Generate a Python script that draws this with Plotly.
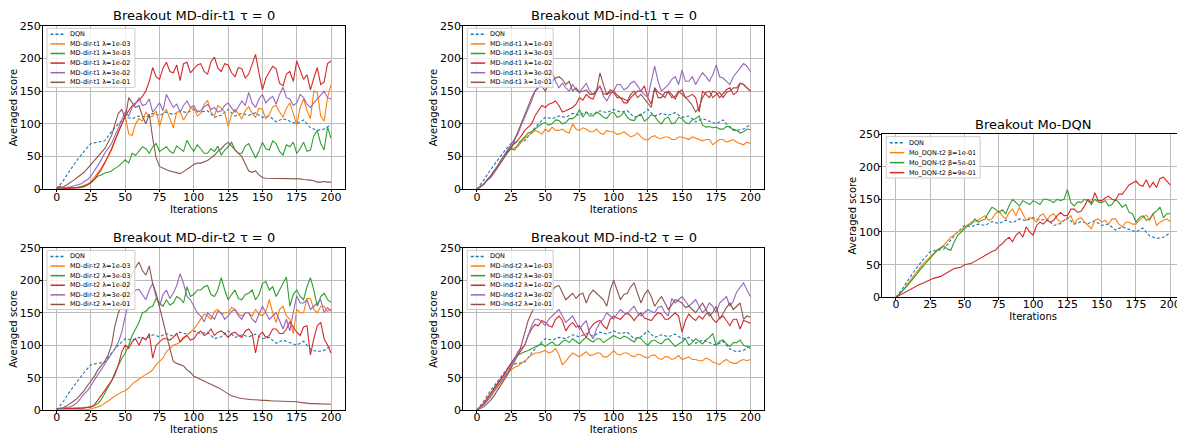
import plotly.graph_objects as go

# ---------------- data ----------------
ITER = list(range(0, 201, 5))                 # DQN baseline sampled every 5 iterations
ITER_F = [k * 2.5 for k in range(81)]         # other runs sampled every 2.5 iterations

DQN = [0, 14, 30, 45, 58, 70, 72, 74, 88, 100, 110, 108, 112, 110, 116, 113, 118, 114, 120, 117,
       122, 118, 120, 110, 113, 122, 112, 116, 113, 117, 110, 112, 103, 108, 104, 100, 106, 94, 90, 92, 99]

# Breakout MD-dir-t1
DIR_T1_1e3 = [2, 2, 2, 2, 2, 3, 3, 4, 6, 8, 12, 18, 25, 32, 40, 50, 60, 75, 88, 100,
              112, 85, 82, 100, 108, 104, 118, 110, 112, 120, 96, 115, 122, 108, 94, 118, 118, 106, 114, 124,
              124, 112, 116, 130, 136, 118, 112, 128, 124, 118, 96, 114, 122, 115, 108, 120, 126, 116, 110, 124,
              122, 108, 114, 126, 128, 118, 110, 124, 132, 116, 98, 125, 138, 120, 108, 150, 148, 112, 104, 140, 160]
DIR_T1_3e3 = [2, 2, 2, 2, 2, 2, 3, 4, 5, 7, 10, 15, 20, 22, 25, 26, 28, 32, 35, 40,
              45, 40, 55, 52, 58, 65, 62, 55, 65, 70, 58, 62, 65, 58, 55, 66, 62, 58, 75, 65,
              58, 68, 62, 55, 55, 62, 58, 66, 52, 60, 65, 72, 60, 55, 55, 66, 70, 60, 48, 58,
              72, 62, 60, 74, 70, 58, 52, 68, 65, 72, 55, 62, 72, 58, 60, 82, 90, 70, 60, 95, 78]
DIR_T1_1e2 = [3, 4, 1, 1, 1, 1, 2, 3, 4, 7, 10, 15, 22, 30, 40, 50, 62, 75, 88, 100,
              112, 120, 128, 132, 136, 142, 150, 165, 186, 172, 168, 185, 194, 180, 178, 190, 166, 192, 194, 178,
              184, 190, 192, 180, 176, 195, 202, 185, 180, 192, 190, 178, 172, 186, 184, 170, 176, 190, 206, 178,
              152, 170, 178, 188, 184, 162, 158, 176, 180, 165, 196, 182, 168, 175, 152, 170, 186, 160, 164, 192, 196]
DIR_T1_3e2 = [2, 2, 3, 3, 4, 5, 6, 8, 12, 15, 20, 28, 35, 45, 55, 62, 70, 82, 95, 108,
              118, 112, 125, 130, 140, 128, 130, 138, 118, 125, 132, 120, 145, 135, 125, 130, 118, 128, 135, 125,
              128, 118, 120, 126, 130, 122, 125, 118, 120, 128, 132, 124, 118, 126, 135, 128, 148, 132, 125, 138,
              145, 132, 138, 142, 130, 145, 156, 140, 138, 128, 132, 145, 140, 130, 125, 132, 138, 145, 150, 140, 138]
DIR_T1_1e1 = [1, 2, 4, 7, 10, 14, 18, 22, 26, 32, 38, 44, 50, 56, 62, 72, 82, 100, 116, 122,
              108, 140, 132, 125, 128, 112, 100, 115, 78, 48, 35, 32, 30, 28, 27, 25, 24, 27, 30, 34,
              38, 40, 40, 42, 44, 48, 52, 58, 62, 68, 72, 66, 60, 55, 50, 40, 28, 26, 28, 22,
              18, 17, 17, 16, 16, 17, 16, 16, 17, 16, 17, 16, 15, 15, 14, 13, 11, 11, 12, 11, 11]

# Breakout MD-ind-t1
IND_T1_1e3 = [0, 4, 8, 14, 20, 28, 35, 44, 52, 58, 62, 64, 65, 72, 78, 82, 85, 90, 88, 84,
              92, 88, 95, 90, 90, 92, 88, 86, 100, 92, 90, 94, 92, 88, 88, 92, 86, 84, 90, 88,
              88, 84, 85, 88, 84, 80, 82, 86, 80, 76, 75, 80, 82, 78, 78, 80, 80, 76, 76, 80,
              80, 78, 76, 80, 78, 76, 74, 76, 76, 68, 72, 76, 76, 72, 74, 76, 72, 70, 68, 72, 70]
IND_T1_3e3 = [0, 4, 8, 14, 20, 28, 35, 44, 52, 58, 62, 60, 68, 75, 80, 86, 88, 92, 95, 100,
              102, 98, 100, 106, 105, 100, 102, 108, 108, 112, 122, 110, 118, 112, 112, 118, 115, 110, 108, 116,
              118, 110, 112, 118, 110, 106, 105, 112, 115, 104, 108, 114, 112, 104, 100, 108, 110, 100, 102, 110,
              108, 102, 100, 106, 108, 112, 98, 95, 96, 94, 95, 92, 92, 96, 96, 90, 90, 86, 88, 92, 91]
IND_T1_1e2 = [0, 4, 8, 14, 20, 28, 35, 44, 52, 60, 65, 70, 75, 82, 90, 95, 100, 112, 120, 128,
              125, 130, 132, 135, 128, 118, 120, 122, 125, 130, 140, 136, 145, 140, 138, 150, 158, 146, 145, 152,
              150, 144, 140, 132, 132, 140, 145, 150, 150, 158, 140, 130, 155, 148, 145, 140, 150, 145, 138, 148,
              152, 140, 142, 145, 140, 118, 150, 145, 140, 150, 148, 140, 146, 152, 155, 145, 148, 162, 160, 155, 150]
IND_T1_3e2 = [0, 4, 8, 14, 20, 28, 35, 44, 52, 60, 68, 76, 85, 98, 110, 122, 135, 150, 158, 165,
              172, 168, 180, 165, 155, 162, 155, 150, 160, 152, 148, 155, 162, 150, 145, 152, 158, 142, 135, 145,
              150, 160, 160, 152, 155, 162, 165, 158, 150, 145, 140, 165, 188, 165, 150, 155, 160, 168, 172, 160,
              182, 165, 165, 172, 160, 170, 178, 172, 165, 175, 190, 172, 170, 165, 160, 172, 178, 185, 192, 188, 180]
IND_T1_1e1 = [0, 4, 8, 14, 18, 25, 33, 42, 50, 56, 62, 75, 90, 102, 115, 128, 140, 150, 155, 158,
              150, 160, 165, 170, 172, 168, 160, 165, 150, 155, 148, 150, 152, 145, 145, 150, 178, 160, 145, 148,
              148, 140, 140, 138, 135, 145, 150, 140, 145, 138, 132, 125, 155, 140, 140, 148, 148, 140, 142, 150,
              145, 140, 135, 128, 118, 125, 140, 148, 150, 140, 145, 148, 140, 148, 150, 155, 155, 162, 160, 155, 150]

# Breakout Mo-DQN
MO_1e1 = [0, 5, 10, 18, 25, 32, 38, 45, 52, 57, 62, 68, 72, 76, 80, 86, 92, 96, 100, 104,
          108, 112, 115, 116, 118, 122, 125, 118, 120, 128, 132, 125, 120, 130, 135, 125, 138, 128, 118, 122,
          120, 115, 125, 128, 118, 125, 128, 120, 115, 118, 120, 125, 112, 120, 122, 115, 110, 105, 118, 120,
          115, 118, 112, 120, 120, 112, 108, 115, 115, 112, 112, 118, 122, 126, 118, 128, 110, 115, 118, 120, 116]
MO_5e1 = [0, 5, 10, 16, 22, 28, 35, 42, 48, 54, 60, 66, 72, 75, 78, 74, 72, 85, 95, 100,
          105, 110, 112, 120, 115, 118, 120, 130, 138, 135, 130, 134, 128, 140, 150, 145, 140, 148, 145, 142,
          148, 145, 142, 150, 150, 148, 145, 150, 148, 150, 165, 145, 140, 146, 145, 150, 148, 142, 150, 146,
          145, 148, 140, 142, 150, 145, 138, 142, 130, 128, 115, 122, 125, 118, 120, 128, 132, 138, 122, 128, 128]
MO_9e1 = [0, 3, 6, 9, 12, 15, 18, 20, 22, 25, 27, 29, 30, 32, 35, 38, 42, 44, 45, 46,
          50, 51, 52, 55, 58, 62, 65, 68, 70, 72, 78, 82, 88, 92, 85, 95, 100, 92, 108, 100,
          95, 110, 115, 112, 118, 115, 118, 125, 130, 125, 125, 135, 135, 130, 132, 140, 150, 145, 160, 148,
          148, 152, 155, 150, 148, 158, 158, 165, 172, 175, 178, 172, 170, 180, 168, 176, 168, 182, 184, 178, 172]

# Breakout MD-dir-t2
DIR_T2_1e3 = [0, 0, 0, 0, 0, 0, 0, 0, 0, 1, 2, 3, 5, 7, 10, 14, 18, 22, 25, 28,
              30, 34, 40, 44, 48, 52, 55, 58, 62, 70, 75, 80, 90, 95, 100, 102, 105, 110, 115, 120,
              125, 132, 140, 148, 145, 140, 152, 155, 148, 150, 150, 158, 155, 148, 145, 150, 150, 145, 155, 148,
              145, 152, 170, 150, 135, 155, 160, 145, 140, 118, 155, 150, 150, 172, 172, 155, 150, 160, 160, 152, 156]
DIR_T2_3e3 = [2, 2, 2, 2, 2, 2, 3, 3, 4, 4, 5, 7, 10, 16, 25, 35, 45, 58, 70, 80,
              88, 100, 115, 125, 135, 150, 152, 158, 160, 172, 165, 160, 170, 162, 165, 175, 172, 165, 190, 175,
              178, 185, 185, 190, 192, 178, 175, 185, 204, 185, 170, 178, 185, 172, 170, 178, 180, 185, 170, 178,
              195, 198, 185, 190, 175, 185, 195, 205, 160, 178, 185, 175, 170, 190, 204, 185, 160, 175, 180, 170, 166]
DIR_T2_1e2 = [2, 2, 2, 2, 2, 2, 2, 2, 3, 4, 5, 8, 15, 22, 30, 38, 45, 55, 70, 90,
              100, 95, 105, 110, 100, 112, 108, 118, 80, 100, 105, 110, 110, 108, 112, 118, 105, 112, 115, 108,
              110, 118, 122, 115, 118, 125, 115, 120, 122, 118, 112, 118, 120, 115, 112, 122, 125, 118, 88, 115,
              120, 112, 115, 125, 125, 118, 118, 125, 136, 128, 120, 115, 128, 130, 85, 110, 130, 135, 110, 100, 88]
DIR_T2_3e2 = [2, 2, 3, 4, 5, 8, 12, 18, 25, 30, 38, 45, 55, 62, 70, 78, 85, 95, 105, 120,
              145, 165, 180, 185, 186, 178, 170, 185, 195, 175, 160, 178, 185, 172, 180, 192, 210, 195, 175, 170,
              160, 150, 145, 136, 150, 145, 140, 152, 150, 140, 145, 152, 155, 145, 140, 150, 150, 140, 135, 148,
              160, 150, 140, 145, 150, 138, 125, 140, 122, 150, 176, 165, 165, 170, 155, 160, 165, 170, 150, 158, 152]
DIR_T2_1e1 = [2, 3, 4, 7, 10, 14, 18, 24, 30, 38, 45, 52, 62, 68, 75, 85, 100, 130, 150, 165,
              180, 195, 210, 220, 228, 215, 208, 222, 195, 180, 160, 140, 116, 95, 75, 72, 70, 68, 62, 58,
              52, 50, 48, 45, 42, 40, 38, 35, 32, 28, 25, 22, 20, 19, 18, 17, 17, 16, 16, 15,
              15, 15, 14, 14, 14, 14, 13, 13, 13, 13, 13, 12, 11, 11, 10, 10, 10, 10, 9, 9, 9]

# Breakout MD-ind-t2
IND_T2_1e3 = [0, 5, 10, 16, 22, 30, 38, 45, 52, 58, 62, 66, 68, 72, 75, 80, 85, 88, 88, 90,
              92, 88, 90, 95, 85, 70, 75, 82, 88, 85, 82, 86, 90, 84, 85, 88, 88, 82, 82, 86,
              92, 86, 85, 88, 88, 84, 82, 86, 85, 82, 80, 84, 85, 80, 78, 82, 82, 78, 80, 84,
              78, 80, 82, 78, 78, 76, 76, 80, 78, 74, 72, 70, 75, 78, 74, 72, 72, 76, 78, 76, 78]
IND_T2_3e3 = [0, 5, 10, 18, 25, 34, 42, 48, 55, 64, 72, 80, 85, 88, 90, 92, 95, 98, 100, 102,
              98, 102, 105, 100, 100, 106, 108, 104, 110, 106, 102, 108, 112, 108, 105, 110, 110, 104, 108, 112,
              115, 112, 110, 114, 112, 108, 105, 112, 110, 104, 100, 106, 108, 104, 102, 108, 110, 104, 98, 102,
              105, 110, 100, 104, 110, 106, 102, 108, 112, 118, 100, 106, 108, 102, 98, 104, 104, 108, 100, 98, 95]
IND_T2_1e2 = [0, 5, 10, 18, 25, 32, 40, 48, 55, 64, 72, 80, 85, 92, 100, 115, 125, 132, 130, 138,
              135, 130, 128, 140, 145, 138, 122, 130, 135, 128, 130, 120, 112, 125, 132, 136, 138, 130, 125, 140,
              145, 142, 140, 146, 150, 145, 138, 145, 150, 142, 140, 138, 145, 150, 148, 140, 140, 145, 150, 145,
              120, 138, 148, 142, 138, 145, 140, 148, 150, 140, 135, 142, 145, 138, 130, 140, 140, 125, 138, 136, 134]
IND_T2_3e2 = [0, 4, 8, 14, 20, 28, 35, 42, 50, 58, 68, 80, 90, 95, 100, 115, 130, 140, 140, 135,
              130, 140, 145, 150, 155, 145, 135, 140, 145, 135, 125, 132, 138, 118, 110, 125, 135, 140, 150, 145,
              140, 148, 155, 150, 148, 155, 160, 150, 145, 150, 155, 152, 150, 158, 160, 150, 145, 172, 165, 170,
              175, 168, 160, 165, 170, 160, 150, 155, 165, 160, 150, 165, 170, 175, 160, 168, 182, 190, 196, 185, 175]
IND_T2_1e1 = [0, 2, 5, 10, 15, 22, 30, 38, 45, 55, 65, 75, 85, 100, 120, 138, 150, 160, 170, 180,
              187, 180, 185, 190, 192, 180, 170, 175, 180, 172, 178, 180, 165, 178, 185, 180, 175, 170, 160, 185,
              200, 185, 170, 178, 180, 190, 196, 180, 165, 178, 185, 175, 160, 168, 175, 165, 155, 162, 170, 168,
              165, 158, 160, 155, 150, 158, 165, 155, 145, 150, 160, 140, 150, 158, 165, 155, 160, 165, 140, 145, 143]

X_TICKS = [0, 25, 50, 75, 100, 125, 150, 175, 200]
Y_TICKS = [0, 50, 100, 150, 200, 250]

LAM = ["1e-03", "3e-03", "1e-02", "3e-02", "1e-01"]
BETA = ["1e-01", "5e-01", "9e-01"]

# ---------------- styling ----------------
OFF = 8                      # default body margin of the html page
W, H = 1185 - OFF, 444 - OFF
FONT = "DejaVu Sans"
C_DQN = "#1f77b4"
C_SERIES = ["#ff7f0e", "#2ca02c", "#d62728", "#9467bd", "#8c564b"]


def xp(px):
    return (px - OFF) / W


def yp(py):
    return 1 - (py - OFF) / H


panels = [
    dict(title="Breakout MD-dir-t1 τ = 0", px=(43, 345), py=(20, 188.7),
         series=[DIR_T1_1e3, DIR_T1_3e3, DIR_T1_1e2, DIR_T1_3e2, DIR_T1_1e1],
         labels=[f"MD-dir-t1 λ={v}" for v in LAM], boxw=88),
    dict(title="Breakout MD-ind-t1 τ = 0", px=(463.6, 764.7), py=(20, 188.7),
         series=[IND_T1_1e3, IND_T1_3e3, IND_T1_1e2, IND_T1_3e2, IND_T1_1e1],
         labels=[f"MD-ind-t1 λ={v}" for v in LAM], boxw=86),
    dict(title="Breakout Mo-DQN", px=(883, 1185), py=(131.7, 300),
         series=[MO_1e1, MO_5e1, MO_9e1],
         labels=[f"Mo_DQN-t2 β={v}" for v in BETA], boxw=94),
    dict(title="Breakout MD-dir-t2 τ = 0", px=(43, 345), py=(249, 416.3),
         series=[DIR_T2_1e3, DIR_T2_3e3, DIR_T2_1e2, DIR_T2_3e2, DIR_T2_1e1],
         labels=[f"MD-dir-t2 λ={v}" for v in LAM], boxw=88),
    dict(title="Breakout MD-ind-t2 τ = 0", px=(463.6, 764.7), py=(249, 416.3),
         series=[IND_T2_1e3, IND_T2_3e3, IND_T2_1e2, IND_T2_3e2, IND_T2_1e1],
         labels=[f"MD-ind-t2 λ={v}" for v in LAM], boxw=86),
]

fig = go.Figure()
shapes = []
annotations = []
layout_axes = {}

for i, p in enumerate(panels, start=1):
    sfx = "" if i == 1 else str(i)
    xref, yref = "x" + sfx, "y" + sfx

    fig.add_trace(go.Scatter(x=ITER, y=DQN, mode="lines", name="DQN", showlegend=False,
                             line=dict(color=C_DQN, width=1.1, dash="3px,2px"),
                             xaxis=xref, yaxis=yref, hoverinfo="skip"))
    for s, lab, col in zip(p["series"], p["labels"], C_SERIES):
        fig.add_trace(go.Scatter(x=ITER_F, y=s, mode="lines", name=lab, showlegend=False,
                                 line=dict(color=col, width=1.1),
                                 xaxis=xref, yaxis=yref, hoverinfo="skip"))

    x0, x1 = p["px"]
    y0, y1 = p["py"]
    common = dict(showgrid=True, gridcolor="#bcbcbc", gridwidth=1.3, zeroline=False,
                  showline=True, mirror=True, linecolor="black", linewidth=1,
                  ticks="outside", ticklen=2, tickcolor="black", tickwidth=1,
                  tickfont=dict(family=FONT, size=11, color="black"))
    layout_axes["xaxis" + sfx] = dict(domain=[xp(x0), min(xp(x1), 1.0)], range=[-10, 210],
                                      tickmode="array", tickvals=X_TICKS, anchor=yref,
                                      ticklabelstandoff=-5,
                                      title=dict(text="Iterations", font=dict(family=FONT, size=10, color="black"),
                                                 standoff=0),
                                      **common)
    layout_axes["yaxis" + sfx] = dict(domain=[yp(y1), yp(y0)], range=[0, 250],
                                      tickmode="array", tickvals=Y_TICKS, anchor=xref,
                                      ticklabelstandoff=-3,
                                      title=dict(text="Averaged score", font=dict(family=FONT, size=10, color="black"),
                                                 standoff=0),
                                      **common)

    annotations.append(dict(text=p["title"], x=xp((x0 + min(x1, 1186)) / 2), y=yp(y0 - 0.5),
                            xref="paper", yref="paper", xanchor="center", yanchor="bottom",
                            showarrow=False, font=dict(family=FONT, size=13, color="black")))

    # compact matplotlib-style legend box
    names = ["DQN"] + p["labels"]
    colors = [C_DQN] + C_SERIES[:len(p["labels"])]
    n = len(names)
    step = 9.9 if n == 6 else 10.3
    bx0, by0 = x0 + 4, y0 + 2.7
    bx1, by1 = bx0 + p["boxw"], by0 + n * step + 1.5
    shapes.append(dict(type="rect", xref="paper", yref="paper",
                       x0=xp(bx0), x1=xp(bx1), y0=yp(by1), y1=yp(by0),
                       fillcolor="rgba(255,255,255,0.8)", line=dict(color="#cccccc", width=1),
                       layer="above"))
    for k, (nm, col) in enumerate(zip(names, colors)):
        ry = by0 + 6.2 + k * step
        shapes.append(dict(type="line", xref="paper", yref="paper",
                           x0=xp(bx0 + 3.5), x1=xp(bx0 + 18), y0=yp(ry), y1=yp(ry),
                           line=dict(color=col, width=1.5, dash="3px,2px" if k == 0 else "solid"),
                           layer="above"))
        annotations.append(dict(text=nm, x=xp(bx0 + 21), y=yp(ry), xref="paper", yref="paper",
                                xanchor="left", yanchor="middle", showarrow=False,
                                font=dict(family=FONT, size=6.5, color="black")))

fig.update_layout(
    width=W, height=H,
    margin=dict(l=0, r=0, t=0, b=0),
    paper_bgcolor="white", plot_bgcolor="white",
    font=dict(family=FONT, color="black"),
    showlegend=False,
    shapes=shapes, annotations=annotations,
    **layout_axes,
)

fig.write_html("out.html")
